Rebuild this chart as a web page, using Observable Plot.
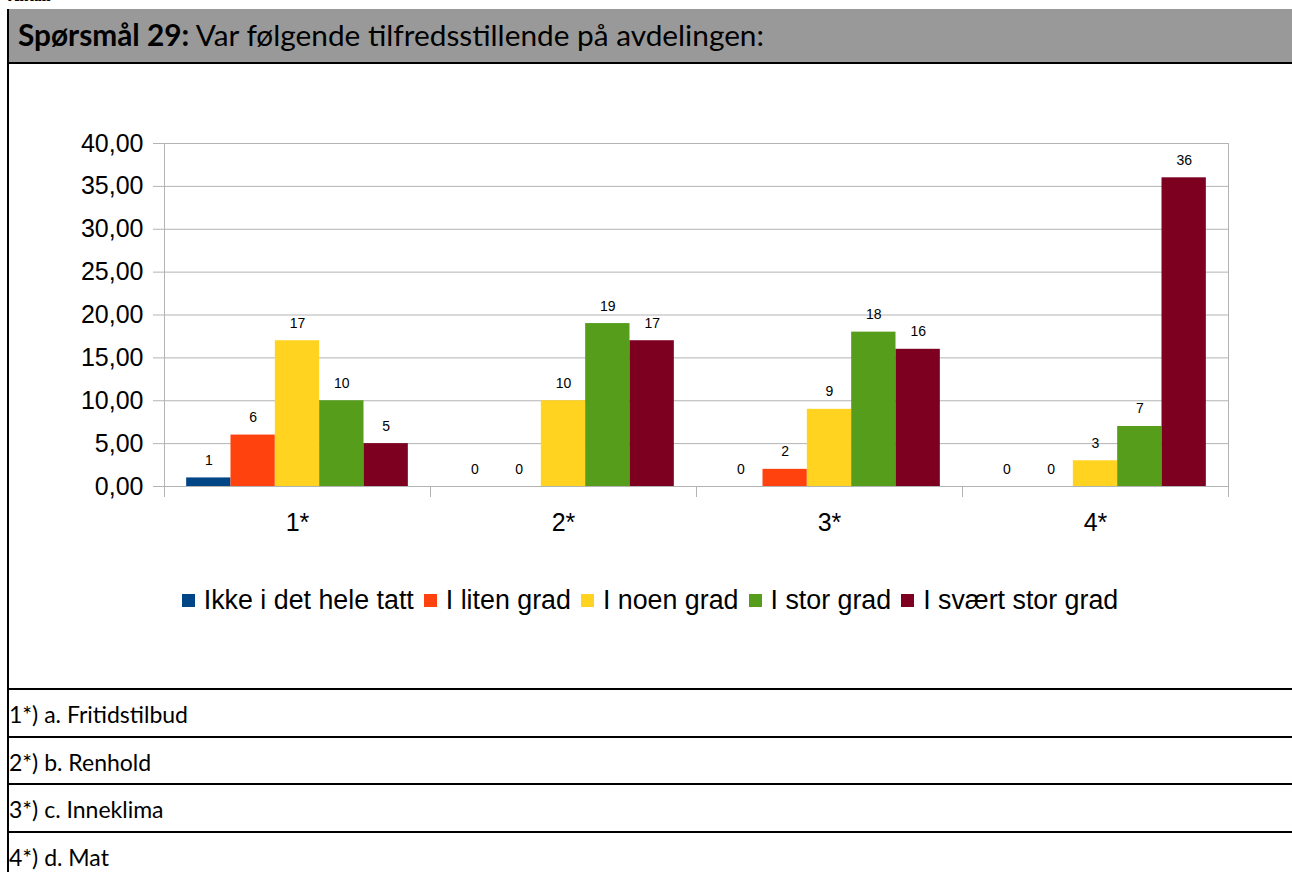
<!DOCTYPE html>
<html>
<head>
<meta charset="utf-8">
<script src="https://cdn.jsdelivr.net/npm/d3@7"></script>
<script src="https://cdn.jsdelivr.net/npm/@observablehq/plot@0.6"></script>
<style>
  html, body { margin: 0; padding: 0; background: #fff; width: 1292px; height: 872px; overflow: hidden; }
  #page { position: relative; width: 1292px; height: 872px; }
  .carl { font-family: Lato, "Open Sans", sans-serif; color: #000; }
  #antall { position: absolute; left: 8px; top: -13px; font: bold 16px "Liberation Serif", serif; }
  #leftborder { position: absolute; left: 7px; top: 9px; width: 2px; height: 863px; background: #000; }
  #header { position: absolute; left: 9px; top: 9px; width: 1283px; height: 53px; background: #999999; border-bottom: 2px solid #000; }
  #title { position: absolute; left: 18px; top: 17px; font-size: 29.8px; white-space: nowrap; }
  #chart { position: absolute; left: 0; top: 64px; }
  #legend { position: absolute; left: 0; width: 1300px; top: 585px; display: flex; justify-content: center; font: 26.8px "Liberation Sans", Arial, sans-serif; color: #000; }
  #legend .item { display: flex; align-items: center; margin: 0 5px; }
  #legend .sw { width: 13px; height: 13px; margin-right: 9px; }
  .row { position: absolute; left: 9px; width: 1283px; border-top: 2px solid #000; height: 46px; }
  .row span { position: absolute; left: 0px; top: 10px; font-size: 23px; }
</style>
</head>
<body>
<div id="page">
  <div id="antall">Antall</div>
  <div id="header"></div>
  <div id="leftborder"></div>
  <div id="title" class="carl"><b>Spørsmål 29:</b> Var følgende tilfredsstillende på avdelingen:</div>
  <div id="chart"></div>
  <div id="legend"></div>
  <div id="rows"></div>
</div>
<script>
const categories = ["1*", "2*", "3*", "4*"];
const series = ["Ikke i det hele tatt", "I liten grad", "I noen grad", "I stor grad", "I svært stor grad"];
const colors = ["#004586", "#ff420e", "#ffd320", "#579d1c", "#7e0021"];
const valuesIkke = [1, 0, 0, 0];
const valuesLiten = [6, 0, 2, 0];
const valuesNoen = [17, 10, 9, 3];
const valuesStor = [10, 19, 18, 7];
const valuesSvaert = [5, 17, 16, 36];
const yTicks = [0, 5, 10, 15, 20, 25, 30, 35, 40];
const rowLabels = ["1*) a. Fritidstilbud", "2*) b. Renhold", "3*) c. Inneklima", "4*) d. Mat"];

const seriesValues = [valuesIkke, valuesLiten, valuesNoen, valuesStor, valuesSvaert];
const data = [];
categories.forEach((c, i) => {
  series.forEach((s, j) => {
    data.push({cat: c, series: s, value: seriesValues[j][i], x1: i + (j + 0.5) / 6, x2: i + (j + 1.5) / 6});
  });
});

const gridColor = "#b3b3b3";
const fmt = d => d.toFixed(2).replace(".", ",");

const plot = Plot.plot({
  width: 1292,
  height: 480,
  marginLeft: 164,
  marginRight: 64,
  marginTop: 79,
  marginBottom: 58,
  style: {fontFamily: "'Liberation Sans', Arial, sans-serif", color: "#000", background: "transparent"},
  x: {type: "linear", domain: [0, categories.length], label: null},
  y: {domain: [0, 40], label: null},
  color: {domain: series, range: colors},
  marks: [
    Plot.gridY(yTicks, {stroke: gridColor, strokeOpacity: 1}),
    Plot.axisY(yTicks, {tickSize: 11, tickPadding: 10, tickFormat: fmt, fontSize: 25, stroke: gridColor, label: null}),
    Plot.ruleX([0, categories.length], {stroke: gridColor}),
    Plot.axisX(d3.range(categories.length + 1), {tickSize: 11, tickFormat: () => "", stroke: gridColor, label: null}),
    Plot.axisX(categories.map((c, i) => i + 0.5), {tickSize: 0, tickPadding: 27, tickFormat: (d) => categories[Math.floor(d)], fontSize: 25, label: null}),
    Plot.rectY(data, {x1: "x1", x2: "x2", y1: 0, y2: "value", fill: "series"}),
    Plot.ruleY([0], {stroke: gridColor}),
    Plot.text(data, {x: d => (d.x1 + d.x2) / 2, y: "value", text: d => String(d.value), lineAnchor: "bottom", dy: -13, fontSize: 14, fill: "#000"})
  ]
});
document.getElementById("chart").appendChild(plot);

const legend = document.getElementById("legend");
series.forEach((s, j) => {
  const it = document.createElement("div");
  it.className = "item";
  it.innerHTML = `<div class="sw" style="background:${colors[j]}"></div><span>${s}</span>`;
  legend.appendChild(it);
});

const rows = document.getElementById("rows");
const rowTops = [688, 736, 783, 831];
rowLabels.forEach((t, i) => {
  const r = document.createElement("div");
  r.className = "row carl";
  r.style.top = rowTops[i] + "px";
  r.innerHTML = `<span>${t}</span>`;
  rows.appendChild(r);
});
</script>
</body>
</html>
